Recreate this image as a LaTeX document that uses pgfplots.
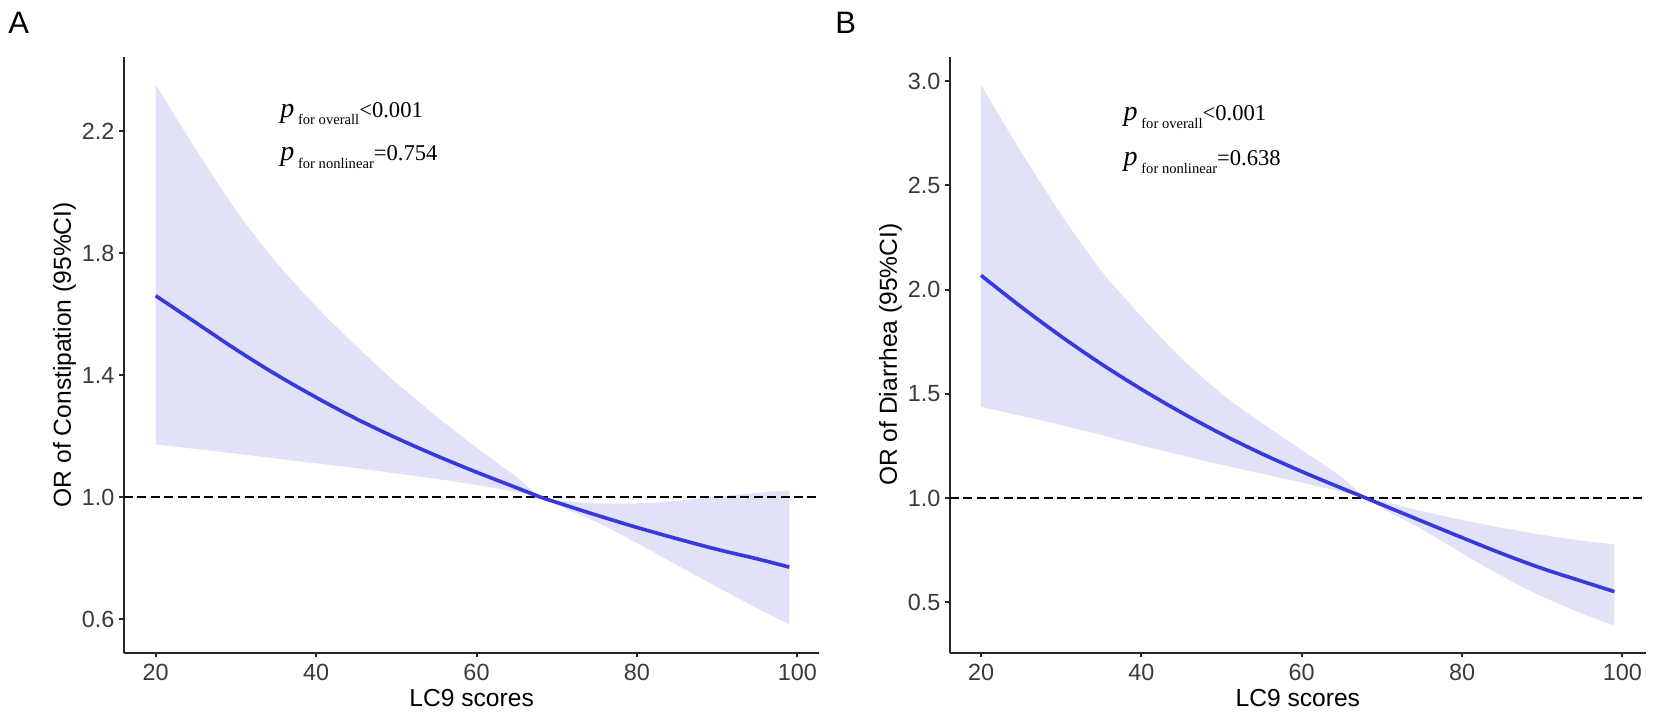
\documentclass[border=0pt]{standalone}
\usepackage{fontspec}
\setmainfont{Liberation Sans}
\newfontfamily\pfont{Liberation Serif}
\usepackage{pgfplots}
\pgfplotsset{compat=1.18}
\usepackage{pgfplotstable}
\usepgfplotslibrary{fillbetween}

\definecolor{rcsline}{RGB}{56,56,222}
\definecolor{rcsband}{RGB}{225,225,248}
\definecolor{ticktext}{RGB}{58,58,58}

% LC9 score, OR estimate, lower and upper 95% CI
\pgfplotstableread{
x   est    lo     hi
20  1.660  1.173  2.352
25  1.572  1.158  2.140
30  1.484  1.143  1.940
35  1.402  1.127  1.770
40  1.327  1.111  1.625
45  1.257  1.095  1.495
50  1.194  1.078  1.375
55  1.136  1.060  1.265
60  1.082  1.040  1.162
65  1.031  1.017  1.066
68  1.000  1.000  1.000
70  0.983  0.975  0.990
75  0.941  0.918  0.980
80  0.901  0.850  0.980
85  0.864  0.778  0.988
90  0.829  0.706  1.002
95  0.798  0.636  1.014
99  0.771  0.583  1.023
}\constip

\pgfplotstableread{
x   est    lo     hi
20  2.068  1.437  2.981
25  1.917  1.394  2.660
30  1.775  1.350  2.360
35  1.643  1.303  2.090
40  1.522  1.252  1.870
45  1.410  1.205  1.670
50  1.307  1.160  1.500
55  1.213  1.117  1.360
60  1.127  1.074  1.230
65  1.047  1.030  1.100
68  1.000  1.000  1.000
70  0.968  0.952  0.985
75  0.889  0.850  0.937
80  0.810  0.735  0.895
85  0.733  0.625  0.857
90  0.662  0.527  0.823
95  0.600  0.445  0.795
99  0.551  0.389  0.778
}\diarr

\pgfplotsset{
  rcs/.style={
    scale only axis, height=298pt,
    axis x line=bottom, axis y line=left,
    axis line style={-, line width=1pt, black!85},
    tick style={line width=1pt, black!85},
    tick align=outside, major tick length=2.35pt,
    xtick={20,40,60,80,100},
    ticklabel style={font=\fontsize{11.7}{12}\selectfont, text=ticktext, inner sep=0pt},
    xticklabel style={anchor=north},
    xticklabel shift=3pt,
    yticklabel shift=2.3pt,
    yticklabel style={anchor=east, /pgf/number format/fixed,
      /pgf/number format/fixed zerofill, /pgf/number format/precision=1},
    /pgf/number format/assume math mode=true,
    every axis y label/.style={at={(rel axis cs:0,0.5)}, rotate=90,
      anchor=center, yshift=29.75pt},
    every axis x label/.style={at={(rel axis cs:0.5,0)}, anchor=base,
      yshift=-26.65pt},
    label style={font=\fontsize{12.3}{13}\selectfont},
    xlabel={LC9 scores},
  }
}

\newcommand\ptext[2]{{\pfont\fontsize{14}{14}\selectfont\itshape p}%
  \raisebox{-3.8pt}{\pfont\fontsize{7.3}{8}\selectfont\ #1}%
  {\pfont\fontsize{11.3}{12}\selectfont #2}}

\begin{document}
\begin{tikzpicture}
\begin{axis}[rcs,
  at={(62pt,30.65pt)}, anchor=south west, width=347.65pt,
  xmin=16.05, xmax=102.74, ymin=0.4906, ymax=2.443,
  ytick={0.6,1.0,1.4,1.8,2.2},
  ylabel={OR of Constipation (95\%CI)},
]
\addplot[draw=none, smooth, name path=hi] table[x=x, y=hi] {\constip};
\addplot[draw=none, smooth, name path=lo] table[x=x, y=lo] {\constip};
\addplot[fill=rcsband, draw=none] fill between[of=hi and lo];
\addplot[black, line width=1pt, dash pattern=on 4.5pt off 2.2pt]
  coordinates {(16.05,1) (102.74,1)};
\addplot[rcsline, line width=1.8pt, smooth] table[x=x, y=est] {\constip};
\end{axis}

\begin{axis}[rcs,
  at={(475pt,30.65pt)}, anchor=south west, width=347.85pt,
  xmin=16.13, xmax=102.9, ymin=0.258, ymax=3.117,
  ytick={0.5,1.0,1.5,2.0,2.5,3.0},
  ylabel={OR of Diarrhea (95\%CI)},
]
\addplot[draw=none, smooth, name path=hi] table[x=x, y=hi] {\diarr};
\addplot[draw=none, smooth, name path=lo] table[x=x, y=lo] {\diarr};
\addplot[fill=rcsband, draw=none] fill between[of=hi and lo];
\addplot[black, line width=1pt, dash pattern=on 4.5pt off 2.2pt]
  coordinates {(16.13,1) (102.9,1)};
\addplot[rcsline, line width=1.8pt, smooth] table[x=x, y=est] {\diarr};
\end{axis}

\node[anchor=base west, inner sep=0pt, font=\fontsize{15.5}{16}\selectfont] at (4pt,340.4pt) {A};
\node[anchor=base west, inner sep=0pt, font=\fontsize{15.5}{16}\selectfont] at (417.5pt,340.4pt) {B};

\node[anchor=base west, inner sep=0pt] at (140pt,298.35pt) {\ptext{for overall}{<0.001}};
\node[anchor=base west, inner sep=0pt] at (140pt,276.5pt) {\ptext{for nonlinear}{=0.754}};
\node[anchor=base west, inner sep=0pt] at (561.65pt,296.65pt) {\ptext{for overall}{<0.001}};
\node[anchor=base west, inner sep=0pt] at (561.65pt,274.15pt) {\ptext{for nonlinear}{=0.638}};

\pgfresetboundingbox
\useasboundingbox (0,0) rectangle (827pt,357pt);
\end{tikzpicture}
\end{document}
